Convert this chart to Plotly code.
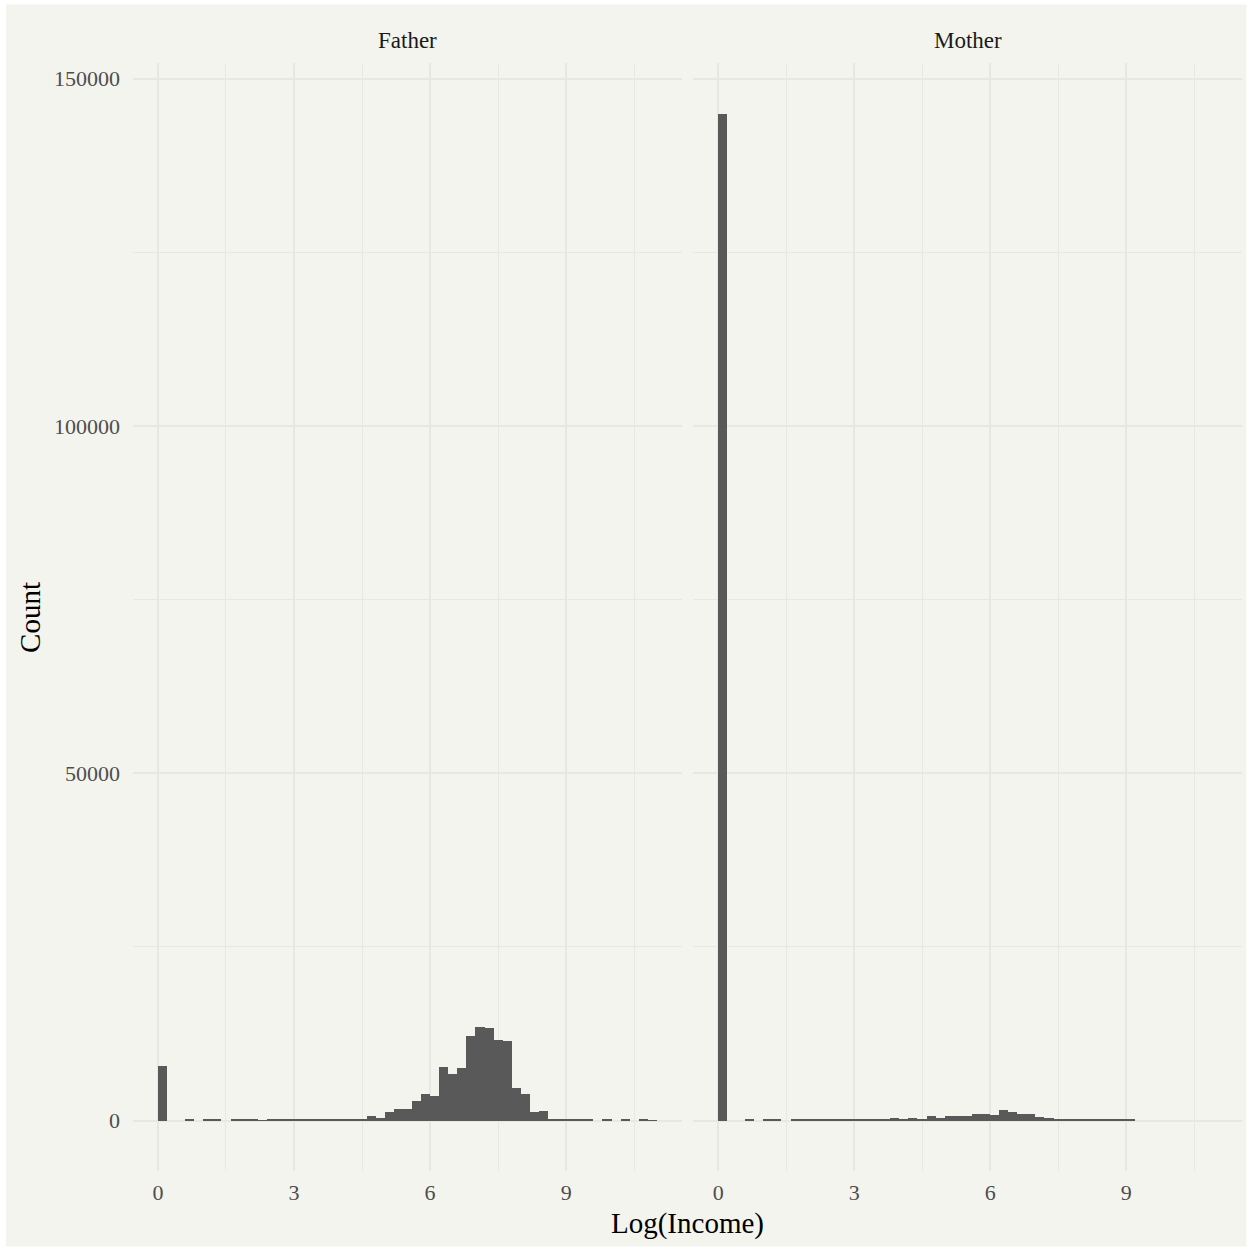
import plotly.graph_objects as go
from plotly.subplots import make_subplots

# ---- data ----
bin_width = 0.2
bin_left = [0.0, 0.2, 0.4, 0.6, 0.8, 1.0, 1.2, 1.4, 1.6, 1.8,
            2.0, 2.2, 2.4, 2.6, 2.8, 3.0, 3.2, 3.4, 3.6, 3.8,
            4.0, 4.2, 4.4, 4.6, 4.8, 5.0, 5.2, 5.4, 5.6, 5.8,
            6.0, 6.2, 6.4, 6.6, 6.8, 7.0, 7.2, 7.4, 7.6, 7.8,
            8.0, 8.2, 8.4, 8.6, 8.8, 9.0, 9.2, 9.4, 9.6, 9.8,
            10.0, 10.2, 10.4, 10.6, 10.8]

father_count = [7870, 0, 0, 130, 0, 120, 110, 0, 100, 95,
                100, 90, 95, 100, 95, 100, 105, 110, 115, 120,
                130, 230, 100, 640, 360, 1230, 1650, 1660, 2810, 3820,
                3530, 7730, 6720, 7560, 12190, 13490, 13340, 11620, 11470, 4700,
                3840, 1250, 1390, 120, 110, 110, 100, 100, 0, 100,
                0, 100, 0, 100, 90]

mother_count = [144900, 0, 0, 130, 0, 120, 120, 0, 100, 100,
                105, 100, 110, 110, 120, 130, 140, 190, 190, 340,
                190, 340, 190, 620, 340, 620, 620, 620, 910, 910,
                770, 1490, 1200, 910, 910, 480, 340, 190, 190, 130,
                120, 110, 110, 100, 100, 100, 0, 0, 0, 0,
                0, 0, 0, 0, 0]

panels = ["Father", "Mother"]
x_ticks = [0, 3, 6, 9]
y_ticks = [0, 50000, 100000, 150000]
x_title = "Log(Income)"
y_title = "Count"

# ---- style ----
BG = "#F4F4EF"
GRID = "#E8E8E3"
BAR = "#595959"
FONT = "Liberation Serif"

W = H = 1252
L, R, T, B = 133, 10.4, 63.4, 80.6
pw = W - L - R
ph = H - T - B

fig = make_subplots(rows=1, cols=2, shared_yaxes=True, horizontal_spacing=0)

centers = [b + bin_width / 2 for b in bin_left]
for i, counts in enumerate([father_count, mother_count]):
    fig.add_trace(go.Bar(x=centers, y=counts, width=bin_width,
                         marker=dict(color=BAR, line=dict(width=0)),
                         showlegend=False, hoverinfo="x+y"),
                  row=1, col=i + 1)

d1 = (681.6 - L) / pw
d2 = (693.1 - L) / pw
xcommon = dict(range=[-0.55, 11.55], tickvals=x_ticks, ticktext=[str(t) for t in x_ticks],
               showgrid=True, gridcolor=GRID, gridwidth=2, zeroline=False,
               showline=False, ticks="", ticklabelstandoff=6,
               tickfont=dict(family=FONT, size=22, color="#4D4D4D"),
               minor=dict(dtick=1.5, tick0=0, showgrid=True, gridcolor=GRID, gridwidth=1))
fig.update_xaxes(**xcommon)
fig.update_layout(xaxis=dict(domain=[0, d1]), xaxis2=dict(domain=[d2, 1]))

fig.update_yaxes(range=[-7250, 152250], tickvals=y_ticks, ticktext=[str(t) for t in y_ticks],
                 showgrid=True, gridcolor=GRID, gridwidth=2, zeroline=False,
                 showline=False, ticks="", ticklabelstandoff=12,
                 tickfont=dict(family=FONT, size=22, color="#4D4D4D"),
                 minor=dict(dtick=25000, tick0=0, showgrid=True, gridcolor=GRID, gridwidth=1))
fig.update_yaxes(showticklabels=False, row=1, col=2)

annotations = []
for name, (a, b) in zip(panels, [(0, d1), (d2, 1)]):
    annotations.append(dict(text=name, x=(a + b) / 2, y=1 + 22 / ph, xref="paper", yref="paper",
                            showarrow=False, xanchor="center", yanchor="middle",
                            font=dict(family=FONT, size=23, color="#1A1A1A")))
annotations.append(dict(text=x_title, x=0.5, y=-(1224 - (H - B)) / ph, xref="paper", yref="paper",
                        showarrow=False, xanchor="center", yanchor="middle",
                        font=dict(family=FONT, size=29, color="#000000")))
annotations.append(dict(text=y_title, x=-(L - 30) / pw, y=0.5, xref="paper", yref="paper",
                        showarrow=False, xanchor="center", yanchor="middle", textangle=-90,
                        font=dict(family=FONT, size=29, color="#000000")))

shapes = [dict(type="rect", xref="paper", yref="paper", layer="below",
               x0=(6 - L) / pw, x1=(1246 - L) / pw,
               y0=-(1247 - (H - B)) / ph, y1=((H - B) - 5) / ph,
               fillcolor=BG, line=dict(width=0))]

fig.update_layout(width=W, height=H, margin=dict(l=L, r=R, t=T, b=B),
                  paper_bgcolor="white", plot_bgcolor="rgba(0,0,0,0)",
                  bargap=0, annotations=annotations, shapes=shapes,
                  font=dict(family=FONT))

fig.write_html("out.html", config={"displayModeBar": False},
               post_script="document.body.style.margin='0';document.body.style.overflow='hidden';")
